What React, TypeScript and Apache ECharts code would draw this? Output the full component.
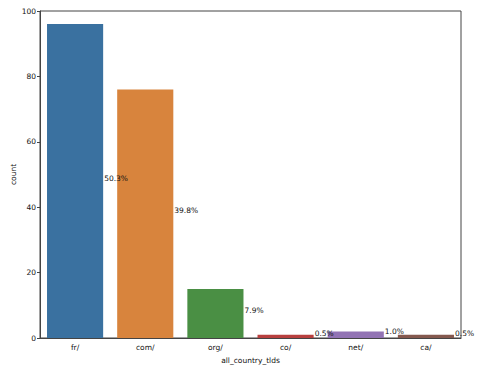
import React, { useEffect, useRef } from "react";
import * as echarts from "echarts";

const categories = ["fr/", "com/", "org/", "co/", "net/", "ca/"];
const counts = [96, 76, 15, 1, 2, 1];
const colors = ["#3a71a0", "#d8843d", "#4a8f44", "#b8403f", "#9273b4", "#85594f"];
const yTicks = [0, 20, 40, 60, 80, 100];

export default function App() {
  const ref = useRef<HTMLDivElement>(null);
  useEffect(() => {
    const chart = echarts.init(ref.current!, null, { renderer: "svg" });
    const total = counts.reduce((a, b) => a + b, 0);
    const font = "DejaVu Sans";
    chart.setOption({
      animation: false,
      textStyle: { fontFamily: font },
      grid: {
        left: 40,
        right: 17,
        top: 11,
        bottom: 27,
        outerBoundsMode: "none",
        containLabel: false,
        show: true,
        borderColor: "#444",
        borderWidth: 1,
        backgroundColor: "transparent",
      },
      xAxis: {
        type: "category",
        data: categories,
        name: "all_country_tlds",
        nameLocation: "middle",
        nameGap: 18,
        nameMoveOverlap: false,
        nameTextStyle: { fontSize: 7.5, color: "#111", fontFamily: font },
        axisLine: { lineStyle: { color: "#444", width: 1 } },
        axisTick: { alignWithLabel: true, length: 3, lineStyle: { color: "#444" } },
        axisLabel: { fontSize: 7.5, color: "#111", margin: 5, fontFamily: font },
      },
      yAxis: {
        type: "value",
        min: yTicks[0],
        max: yTicks[yTicks.length - 1],
        interval: 20,
        name: "count",
        nameLocation: "middle",
        nameGap: 23,
        nameMoveOverlap: false,
        nameTextStyle: { fontSize: 7.5, color: "#111", fontFamily: font },
        splitLine: { show: false },
        axisLine: { show: true, lineStyle: { color: "#444", width: 1 } },
        axisTick: { show: true, length: 3, lineStyle: { color: "#444" } },
        axisLabel: { fontSize: 7.5, color: "#111", margin: 4, fontFamily: font },
      },
      series: [
        {
          type: "bar",
          barWidth: "80%",
          data: counts.map((v, i) => ({ value: v, itemStyle: { color: colors[i] } })),
          label: {
            show: true,
            position: "right",
            distance: 1,
            offset: [0, -3],
            fontSize: 7.5,
            color: "#111",
            fontFamily: font,
            formatter: (p: any) => ((p.value / total) * 100).toFixed(1) + "%",
          },
        },
      ],
    });
    return () => chart.dispose();
  }, []);
  return <div ref={ref} style={{ width: 478, height: 365, position: "absolute", left: 0, top: 0 }} />;
}
